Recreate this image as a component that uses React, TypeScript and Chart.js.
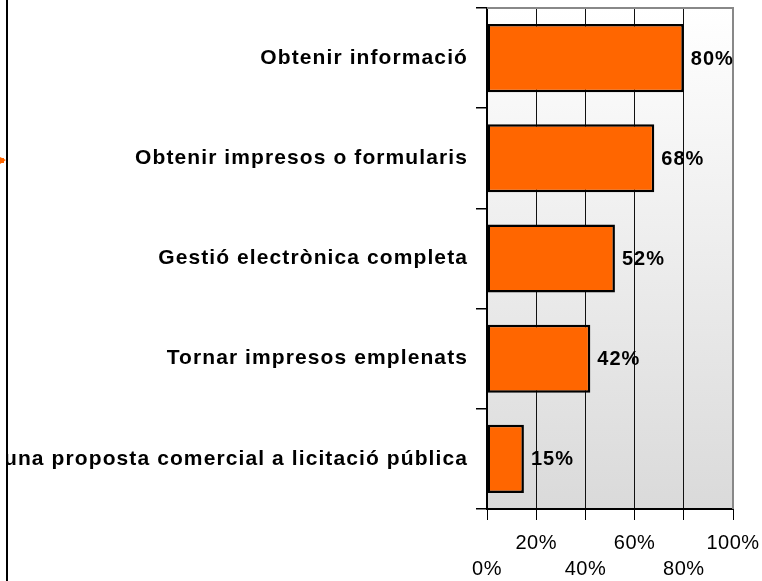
import React, { useEffect, useRef } from "react";
import { Chart, registerables } from "chart.js";

Chart.register(...registerables);

const categories = [
  "Obtenir informació",
  "Obtenir impresos o formularis",
  "Gestió electrònica completa",
  "Tornar impresos emplenats",
  "Presentar una proposta comercial a licitació pública",
];
const values = [80, 68, 52, 42, 15];
const axisMin = 0;
const axisMax = 100;
const axisStep = 20;

const FONT = "Arial, 'Liberation Sans', Helvetica, sans-serif";

const spacingPatch = {
  id: "spacingPatch",
  afterUpdate(chart: any) {
    const patch = (scale: any, spacing: string) => {
      if (!scale || scale._spPatched) return;
      const orig = scale.drawLabels.bind(scale);
      scale.drawLabels = (area: any) => {
        const ctx = chart.ctx;
        ctx.save();
        (ctx as any).letterSpacing = spacing;
        orig(area);
        ctx.restore();
      };
      scale._spPatched = true;
    };
    patch(chart.scales.y, "1.1px");
    patch(chart.scales.x, "0.5px");
  },
};

const bgPlugin = {
  id: "bgPlugin",
  beforeDraw(chart: any) {
    const { ctx, chartArea: a } = chart;
    ctx.save();
    ctx.fillStyle = "#ffffff";
    ctx.fillRect(0, 0, chart.width, chart.height);
    const g = ctx.createLinearGradient(0, a.top, 0, a.bottom);
    g.addColorStop(0, "#ffffff");
    g.addColorStop(1, "#dadada");
    ctx.fillStyle = g;
    ctx.fillRect(a.left, a.top, a.right - a.left, a.bottom - a.top);
    ctx.restore();
  },
  beforeDatasetsDraw(chart: any) {
    const { ctx, chartArea: a } = chart;
    ctx.save();
    ctx.strokeStyle = "#888888";
    ctx.lineWidth = 2;
    ctx.beginPath();
    ctx.moveTo(a.left, a.top);
    ctx.lineTo(a.right, a.top);
    ctx.lineTo(a.right, a.bottom);
    ctx.stroke();
    ctx.restore();
  },
  afterDatasetsDraw(chart: any) {
    const { ctx } = chart;
    const meta = chart.getDatasetMeta(0);
    ctx.save();
    ctx.font = `bold 20px ${FONT}`;
    (ctx as any).letterSpacing = "1px";
    ctx.fillStyle = "#000";
    ctx.textAlign = "left";
    ctx.textBaseline = "middle";
    meta.data.forEach((bar: any, i: number) => {
      ctx.fillText(values[i] + "%", bar.x + 7, bar.y + 1);
    });
    ctx.restore();
  },
  afterDraw(chart: any) {
    const { ctx } = chart;
    ctx.save();
    ctx.fillStyle = "#ffffff";
    ctx.fillRect(0, 0, 6, chart.height);
    ctx.fillStyle = "#000";
    ctx.fillRect(6, 0, 2, chart.height);
    ctx.fillStyle = "#ff6600";
    ctx.beginPath();
    ctx.moveTo(0, 157);
    ctx.lineTo(6, 160);
    ctx.lineTo(0, 164);
    ctx.closePath();
    ctx.fill();
    ctx.fillRect(0, 158, 4, 5);
    ctx.restore();
  },
};

export default function App() {
  const ref = useRef<HTMLCanvasElement>(null);
  useEffect(() => {
    if (!ref.current) return;
    const chart = new Chart(ref.current, {
      type: "bar",
      data: {
        labels: categories,
        datasets: [
          {
            data: values,
            backgroundColor: "#ff6600",
            borderColor: "#000000",
            borderWidth: 2.5,
            borderSkipped: false,
            categoryPercentage: 0.68,
            barPercentage: 1,
          },
        ],
      },
      options: {
        indexAxis: "y",
        responsive: false,
        animation: false,
        layout: { padding: { top: 8, right: 29, bottom: 0, left: 0 } },
        plugins: {
          legend: { display: false },
          tooltip: { enabled: false },
        },
        scales: {
          x: {
            min: axisMin,
            max: axisMax,
            afterFit: (s: any) => {
              s.height = 72;
              s.paddingLeft = 0;
              s.paddingRight = 0;
            },
            ticks: {
              stepSize: axisStep,
              color: "#000",
              padding: 10,
              maxRotation: 0,
              autoSkip: false,
              font: { family: FONT, size: 20, lineHeight: "26px" },
              callback: (v: any, i: number) => {
                const t = v + "%";
                return i % 2 === 1 ? [t, ""] : ["", t];
              },
            },
            grid: {
              drawOnChartArea: true,
              color: (c: any) =>
                c.index === 0 ? "rgba(0,0,0,0)" : c.index === 5 ? "#888888" : "#111111",
              lineWidth: 1,
              tickColor: "#000",
              tickLength: 11,
            },
            border: { color: "#000", width: 2 },
          },
          y: {
            afterFit: (s: any) => {
              s.width = 487;
              s.paddingTop = 0;
              s.paddingBottom = 0;
            },
            ticks: {
              color: "#000",
              padding: 8,
              autoSkip: false,
              font: { family: FONT, size: 21, weight: "bold" },
            },
            grid: {
              drawOnChartArea: false,
              color: "#000",
              tickColor: "#000",
              tickLength: 11,
              lineWidth: 1.5,
              offset: true,
            },
            border: { color: "#000", width: 2 },
          },
        },
      },
      plugins: [spacingPatch, bgPlugin],
    } as any);
    return () => chart.destroy();
  }, []);
  return (
    <div style={{ position: "absolute", left: 0, top: 0, width: 762, height: 581 }}>
      <canvas ref={ref} width={762} height={581} style={{ display: "block" }} />
    </div>
  );
}
